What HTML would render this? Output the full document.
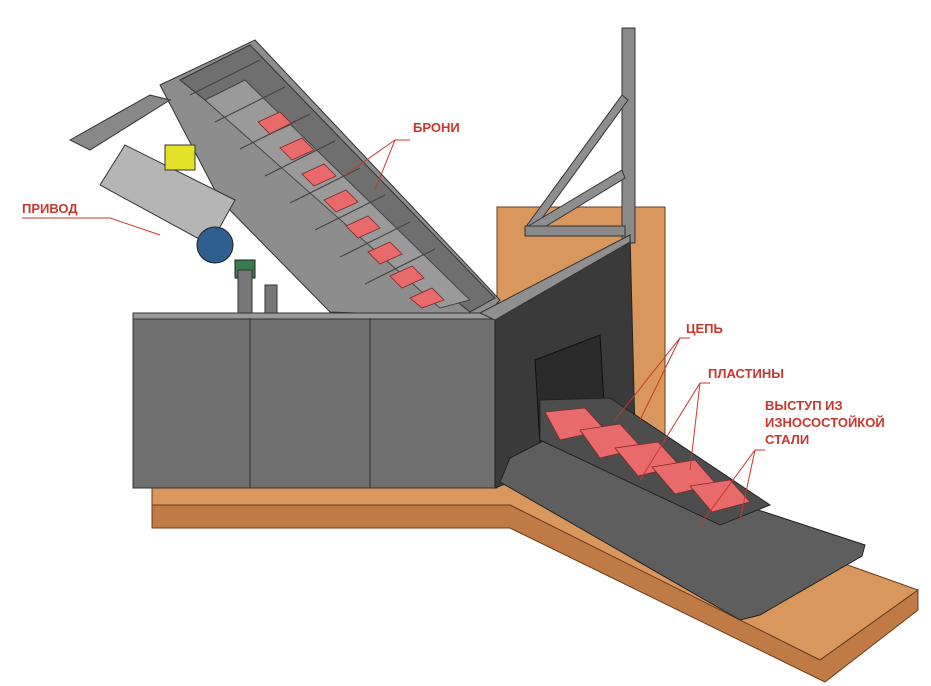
<!DOCTYPE html>
<html><head><meta charset="utf-8"><style>
html,body{margin:0;padding:0;background:#fff;width:931px;height:686px;overflow:hidden}
svg{display:block}
text{font-family:"Liberation Sans",sans-serif;font-weight:bold;font-size:13px;fill:#c8372d}
</style></head><body>
<svg width="931" height="686" viewBox="0 0 931 686">
<!-- floor -->
<polygon points="152,488 497,488 497,207 665,207 665,500 918,590 820,660 510,505 152,505" fill="#d9975d" stroke="#6b3d1c" stroke-width="1"/>
<polygon points="152,505 510,505 820,660 918,590 918,610 825,682 510,528 152,528" fill="#c07a45" stroke="#6b3d1c" stroke-width="1"/>
<!-- vertical post + truss -->
<rect x="622" y="28" width="13" height="215" fill="#8a8a8a" stroke="#333"/>
<polygon points="525,228 622,95 628,100 532,232" fill="#8e8e8e" stroke="#333"/>
<polygon points="525,228 622,170 625,178 530,236" fill="#8e8e8e" stroke="#333"/>
<rect x="525" y="226" width="100" height="10" fill="#8a8a8a" stroke="#333"/>
<!-- inclined conveyor -->
<polygon points="160,85 255,40 500,300 485,318 330,312 220,200" fill="#8d8d8d" stroke="#333"/>
<polygon points="180,80 250,45 495,298 470,312" fill="#6f6f6f" stroke="#333"/>
<polygon points="205,100 245,80 470,300 440,308" fill="#9a9a9a" stroke="#444"/>
<g fill="#e86a6a" stroke="#7a2a2a" stroke-width="0.8">
<polygon points="258,122 280,112 292,124 270,134"/>
<polygon points="280,148 302,138 314,150 292,160"/>
<polygon points="302,174 324,164 336,176 314,186"/>
<polygon points="324,200 346,190 358,202 336,212"/>
<polygon points="346,226 368,216 380,228 358,238"/>
<polygon points="368,252 390,242 402,254 380,264"/>
<polygon points="390,276 412,266 424,278 402,288"/>
<polygon points="410,298 432,288 444,300 422,308"/>
</g>
<g stroke="#444" stroke-width="1.2">
<line x1="190" y1="95" x2="260" y2="60"/><line x1="215" y1="122" x2="285" y2="87"/>
<line x1="240" y1="149" x2="310" y2="114"/><line x1="265" y1="176" x2="335" y2="141"/>
<line x1="290" y1="203" x2="360" y2="168"/><line x1="315" y1="230" x2="385" y2="195"/>
<line x1="340" y1="257" x2="410" y2="222"/><line x1="365" y1="284" x2="435" y2="249"/>
</g>
<!-- drive -->
<polygon points="70,140 150,95 170,100 90,150" fill="#888" stroke="#333"/>
<polygon points="100,185 125,145 235,200 210,245" fill="#b5b5b5" stroke="#333"/>
<rect x="165" y="145" width="30" height="25" fill="#e3e12a" stroke="#333"/>
<circle cx="215" cy="245" r="18" fill="#2f5f8e" stroke="#222"/>
<rect x="235" y="260" width="20" height="18" fill="#3a7a50" stroke="#222"/>
<rect x="238" y="270" width="14" height="45" fill="#777" stroke="#333"/>
<rect x="265" y="285" width="12" height="30" fill="#777" stroke="#333"/>
<!-- left box -->
<rect x="133" y="313" width="362" height="175" fill="#6f6f6f" stroke="#333"/>
<rect x="133" y="313" width="362" height="6" fill="#9a9a9a" stroke="#333"/>
<line x1="250" y1="318" x2="250" y2="488" stroke="#333"/>
<line x1="370" y1="318" x2="370" y2="488" stroke="#333"/>
<!-- right box -->
<polygon points="495,313 630,235 635,432 495,488" fill="#3a3a3a" stroke="#222"/>
<polygon points="480,313 630,235 630,242 495,320" fill="#8f8f8f" stroke="#333"/>
<polygon points="535,360 600,335 605,420 540,445" fill="#2a2a2a" stroke="#111"/>
<!-- lower trough -->
<polygon points="510,458 545,440 865,545 862,556 760,615 740,620 500,482" fill="#5e5e5e" stroke="#222"/>
<polygon points="540,400 610,398 770,505 720,525 540,440" fill="#4d4d4d" stroke="#222"/>
<g fill="#e86a6a" stroke="#7a2a2a" stroke-width="0.8">
<polygon points="545,412 585,408 605,430 560,440"/>
<polygon points="580,430 620,424 642,448 600,458"/>
<polygon points="615,448 658,442 680,466 638,476"/>
<polygon points="652,467 695,460 716,484 675,494"/>
<polygon points="690,486 730,480 750,502 712,512"/>
</g>
<!-- labels -->
<g stroke="#c8372d" stroke-width="1" fill="none">
<polyline points="410,140 395,140 345,175"/><line x1="395" y1="140" x2="375" y2="190"/>
<polyline points="22,218 110,218 160,235"/>
<polyline points="690,338 680,338 615,420"/><line x1="680" y1="338" x2="640" y2="420"/>
<polyline points="710,383 700,383 640,480"/><line x1="700" y1="383" x2="690" y2="470"/>
<polyline points="765,450 755,450 700,525"/><line x1="755" y1="450" x2="740" y2="520"/>
</g>
<text x="413" y="132">БРОНИ</text>
<text x="22" y="213">ПРИВОД</text>
<text x="686" y="333">ЦЕПЬ</text>
<text x="708" y="378">ПЛАСТИНЫ</text>
<text x="765" y="410">ВЫСТУП ИЗ</text>
<text x="765" y="427">ИЗНОСОСТОЙКОЙ</text>
<text x="765" y="444">СТАЛИ</text>
</svg>
</body></html>
